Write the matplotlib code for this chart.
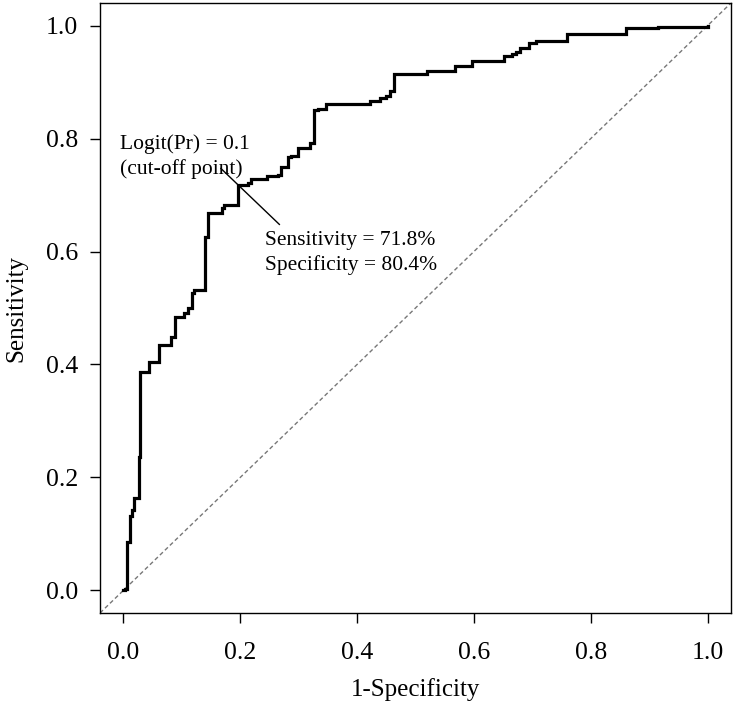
import matplotlib
matplotlib.use("Agg")
import matplotlib.pyplot as plt

plt.rcParams['font.family'] = ['Liberation Serif', 'DejaVu Serif']

# ROC curve corner points (1 - specificity, sensitivity)
fpr = [0.000, 0.003, 0.007, 0.012, 0.015, 0.019, 0.027, 0.029, 0.044, 0.061,
       0.082, 0.088, 0.104, 0.111, 0.117, 0.121, 0.139, 0.145, 0.168, 0.173,
       0.196, 0.214, 0.218, 0.245, 0.265, 0.269, 0.282, 0.287, 0.299, 0.320,
       0.327, 0.333, 0.347, 0.422, 0.439, 0.449, 0.457, 0.464, 0.520, 0.568,
       0.597, 0.651, 0.665, 0.672, 0.679, 0.694, 0.707, 0.759, 0.861, 0.915,
       1.000]
tpr = [0.000, 0.003, 0.085, 0.131, 0.143, 0.164, 0.237, 0.387, 0.405, 0.435,
       0.449, 0.484, 0.491, 0.500, 0.527, 0.532, 0.625, 0.668, 0.677, 0.682,
       0.718, 0.721, 0.728, 0.733, 0.735, 0.749, 0.767, 0.770, 0.784, 0.793,
       0.850, 0.853, 0.862, 0.867, 0.871, 0.876, 0.885, 0.915, 0.920, 0.929,
       0.938, 0.947, 0.950, 0.954, 0.961, 0.970, 0.973, 0.986, 0.995, 0.998,
       1.000]

annot_top = ["Logit(Pr) = 0.1", "(cut-off point)"]
annot_bottom = ["Sensitivity = 71.8%", "Specificity = 80.4%"]
ticks = [0.0, 0.2, 0.4, 0.6, 0.8, 1.0]
tick_labels = ["0.0", "0.2", "0.4", "0.6", "0.8", "1.0"]

W, H = 735, 718
fig = plt.figure(figsize=(W / 100, H / 100), dpi=100)
ax = fig.add_axes([100 / W, (H - 613) / H, 631 / W, 610 / H])

ax.axline((0, 0), (1, 1), color='#777777', lw=1.0, ls=(0, (3, 2)))
ax.plot(fpr, tpr, color='black', lw=2.3, drawstyle='steps-post', solid_joinstyle='miter')

# leader line through the cut-off point
ax.plot([0.167, 0.267], [0.747, 0.648], color='black', lw=1.0)

ax.text(-0.005, 0.790, annot_top[0], fontsize=15.5, ha='left', va='center')
ax.text(-0.005, 0.746, annot_top[1], fontsize=15.5, ha='left', va='center')
ax.text(0.243, 0.620, annot_bottom[0], fontsize=15.5, ha='left', va='center')
ax.text(0.243, 0.576, annot_bottom[1], fontsize=15.5, ha='left', va='center')

ax.set_xlim(-0.04, 1.04)
ax.set_ylim(-0.04, 1.04)
ax.set_xticks(ticks)
ax.set_xticklabels(tick_labels)
ax.set_yticks(ticks)
ax.set_yticklabels(tick_labels)
ax.tick_params(axis='both', direction='out', length=7, width=1.0, labelsize=18.5, color='black')
ax.tick_params(axis='x', pad=14)
ax.tick_params(axis='y', pad=9)
for s in ax.spines.values():
    s.set_linewidth(1.0)
    s.set_color('black')

fig.text(416 / W, 1 - 690 / H, "1-Specificity", fontsize=18, ha='center', va='center')
fig.text(16 / W, 1 - 308 / H, "Sensitivity", fontsize=18, ha='center', va='center', rotation=90)

fig.savefig("out.png", dpi=100)
